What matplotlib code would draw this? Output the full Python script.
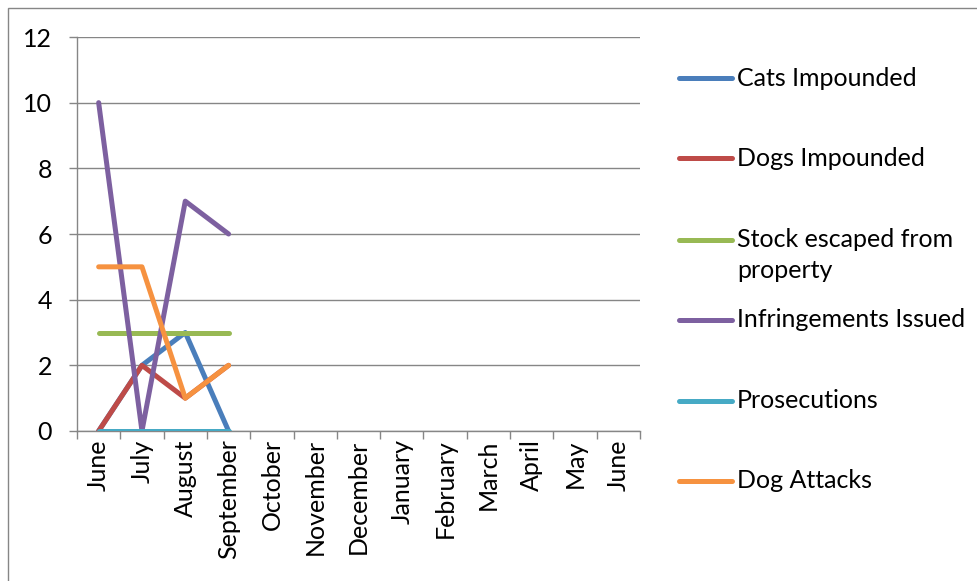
import matplotlib
matplotlib.use("Agg")
import matplotlib.pyplot as plt
from matplotlib.lines import Line2D
from matplotlib.patches import Rectangle
import numpy as np

plt.rcParams['font.family'] = ['Lato', 'DejaVu Sans']

months = ["June", "July", "August", "September", "October", "November",
          "December", "January", "February", "March", "April", "May", "June"]

cats_impounded = [0, 2, 3, 0]
dogs_impounded = [0, 2, 1, 2]
stock_escaped = [3, 3, 3, 3]
infringements = [10, 0, 7, 6]
prosecutions = [0, 0, 0, 0]
dog_attacks = [5, 5, 1, 2]

series = [
    ("Cats Impounded", cats_impounded, "#4A7EBB"),
    ("Dogs Impounded", dogs_impounded, "#BE4B48"),
    ("Stock escaped from\nproperty", stock_escaped, "#98B954"),
    ("Infringements Issued", infringements, "#7D60A0"),
    ("Prosecutions", prosecutions, "#46AAC5"),
    ("Dog Attacks", dog_attacks, "#F69240"),
]

W, H = 978, 581
FS = 18
fig = plt.figure(figsize=(W / 100, H / 100), dpi=100)
ax = fig.add_axes([77 / W, 1 - 431 / H, (640 - 77) / W, (431 - 37) / H])

grid_col = "#868686"
for name, vals, col in series:
    x = np.arange(len(vals))
    ax.plot(x, vals, color=col, lw=3.6, solid_capstyle="round",
            solid_joinstyle="round", zorder=3)

ax.set_xlim(-0.5, len(months) - 0.5)
ax.set_ylim(0, 12)
ax.set_yticks(range(0, 13, 2))
ax.set_xticks(range(len(months)))
ax.set_xticklabels(months, rotation=90, fontsize=FS)
ax.set_xticks(np.arange(-0.5, len(months)), minor=True)
ax.tick_params(axis="x", which="major", length=0, pad=6)
ax.tick_params(axis="x", which="minor", length=6, color=grid_col, width=1)
ax.tick_params(axis="y", length=6, color=grid_col, width=1, labelsize=FS, pad=12)
ax.grid(axis="y", color=grid_col, lw=1, zorder=0)
for s in ["top", "right"]:
    ax.spines[s].set_visible(False)
for s in ["left", "bottom"]:
    ax.spines[s].set_color(grid_col)
    ax.spines[s].set_linewidth(1)

# legend on the right, entries spaced evenly
leg_y = [78, 158, 240, 320, 401, 481]
for (name, vals, col), yy in zip(series, leg_y):
    fy = 1 - yy / H
    fig.add_artist(Line2D([679 / W, 732 / W], [fy, fy], color=col, lw=3.6,
                          solid_capstyle="round"))
    lines = name.split("\n")
    for k, part in enumerate(lines):
        fig.text(737 / W, 1 - (yy + 31 * k) / H, part, fontsize=FS,
                 va="center", ha="left")

# outer frame
fig.add_artist(Rectangle((8 / W, -0.1), 1.2, 1 - 8 / H + 0.1, transform=fig.transFigure,
                         fill=False, edgecolor=grid_col, lw=1))

fig.savefig("out.png", dpi=100)
